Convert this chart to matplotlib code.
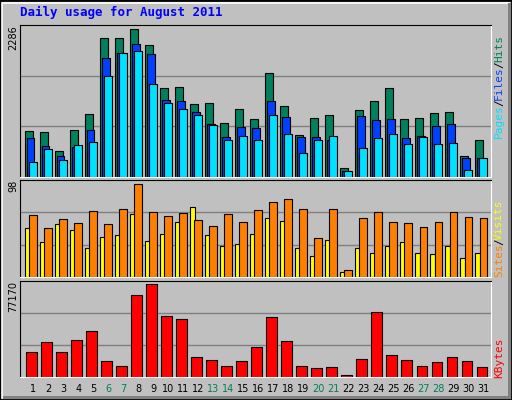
import matplotlib
matplotlib.use("Agg")
import matplotlib.pyplot as plt
import numpy as np
from matplotlib.patches import Rectangle

days = list(range(1, 32))
weekend = [6, 7, 13, 14, 20, 21, 27, 28]
hits_px = [394,397,451,391,343,115,115,88,136,265,262,313,310,370,328,358,220,319,406,355,346,502,331,304,265,358,355,340,337,466,418]
files_px = [415,436,466,439,391,175,160,133,163,301,304,337,373,412,382,385,304,352,412,412,418,512,349,361,358,415,409,379,373,472,472]
pages_px = [484,445,478,433,424,229,160,154,253,310,328,346,376,418,409,418,346,403,457,418,409,512,442,415,403,430,412,430,427,508,472]
hits = [2286*(530-y)/442 for y in hits_px]
files = [2286*(530-y)/442 for y in files_px]
pages = [2286*(530-y)/442 for y in pages_px]
visits_px = [121,160,133,145,109,148,103,28,112,124,115,136,154,118,142,106,82,73,103,187,103,283,130,112,142,145,157,142,112,127,130]
sites_px = [160,199,148,163,217,184,178,118,196,175,142,97,178,211,205,175,130,139,217,241,193,289,217,232,211,199,232,235,211,247,232]
visits = [98*(304-y)/276 for y in visits_px]
sites = [98*(304-y)/276 for y in sites_px]
kb_px = [529,499,529,493,466,556,568,358,328,421,430,544,553,568,556,514,424,496,568,574,571,595,550,409,538,553,568,559,544,556,571]
kbytes = [77170*(602-y)/274 for y in kb_px]

W, H = 512, 400
fig = plt.figure(figsize=(W/100, H/100), dpi=100)
fig.patch.set_facecolor("#C0C0C0")
# outer 3D frame
fig.add_artist(Rectangle((0, 0), 1, 1, transform=fig.transFigure, fill=False, ec="black", lw=2))
fig.add_artist(Rectangle((2/W, 2/H), 1-5/W, 1-5/H, transform=fig.transFigure, fill=False, ec="white", lw=1.2))
fig.add_artist(Rectangle((3/W, 1/H), 1-4/W, 3/H, transform=fig.transFigure, color="#808080", lw=0))
fig.add_artist(Rectangle((1-4/W, 1/H), 3/W, 1-4/H, transform=fig.transFigure, color="#808080", lw=0))

mono = "DejaVu Sans Mono"
fig.text(20/W, 1-12/H, "Daily usage for August 2011", color="#0000FF", fontsize=9,
         fontweight="bold", family=mono, va="center")

x = np.array(days)
def mkax(top, bot):
    ax = fig.add_axes([20/W, 1-bot/H, 471/W, (bot-top)/H])
    ax.set_facecolor("#C0C0C0")
    ax.set_xlim(0.11, 31.5)
    ax.set_xticks([]); ax.set_yticks([])
    for s in ("top", "left"):
        ax.spines[s].set_color("black")
    for s in ("bottom", "right"):
        ax.spines[s].set_color("white")
    return ax

ec = dict(edgecolor="black", linewidth=0.8, align="center")
ax1 = mkax(25, 177)
ym = 2286*454/442
ax1.set_ylim(0, ym)
for g in (ym/3, 2*ym/3):
    ax1.axhline(g, color="#808080", lw=1, zorder=0)
ax1.bar(x-0.30, hits, 0.51, color="#00805C", **ec)
ax1.bar(x-0.18, files, 0.51, color="#0040FF", **ec)
ax1.bar(x-0.03, pages, 0.51, color="#00E0FF", **ec)
fig.text(13/W, 1-38/H, "2286", rotation=90, fontsize=7, va="center", ha="center", family="DejaVu Sans")

ax2 = mkax(180, 277)
ym2 = 98*288/276
ax2.set_ylim(0, ym2)
for g in (ym2/3, 2*ym2/3):
    ax2.axhline(g, color="#808080", lw=1, zorder=0)
ax2.bar(x-0.39, sites, 0.29, color="#FFFF00", **ec)
ax2.bar(x-0.02, visits, 0.49, color="#FF8000", **ec)
fig.text(13/W, 1-186/H, "98", rotation=90, fontsize=7, va="center", ha="center")

ax3 = mkax(281, 377)
ym3 = 77170*284/274
ax3.set_ylim(0, ym3)
for g in (ym3/3, 2*ym3/3):
    ax3.axhline(g, color="#808080", lw=1, zorder=0)
ax3.bar(x-0.12, kbytes, 0.69, color="#FF0000", **ec)
fig.text(13/W, 1-297/H, "77170", rotation=90, fontsize=7, va="center", ha="center")

for d in days:
    xf = (20 + (d - 0.11)/(31.5-0.11)*471)/W
    fig.text(xf, 1-389/H, str(d), fontsize=7, ha="center", va="center",
             color="#00805C" if d in weekend else "black")

def rlabel(parts, ycenter):
    # parts bottom to top
    total = sum(len(p[0]) for p in parts)
    ch = 6.0
    ypos = ycenter - total*ch/2
    for t, c in parts:
        n = len(t)
        fig.text(499/W, 1-(ypos + n*ch/2)/H, t, rotation=90, color=c, fontsize=8,
                 family=mono, ha="center", va="center")
        ypos += n*ch
    # dummy

def rlab(parts, ybottom):
    ch = 6.3
    y = ybottom
    for t, c in parts:
        n = len(t)
        fig.text(499/W, (H - y + n*ch/2)/H, t, rotation=90, color=c, fontsize=8,
                 family=mono, ha="center", va="center")
        y -= n*ch

rlab([("Pages", "#00E0FF"), ("/", "black"), ("Files", "#0040FF"), ("/", "black"), ("Hits", "#00805C")], 137)
rlab([("Sites", "#FF8000"), ("/", "black"), ("Visits", "#FFFF00")], 276)
rlab([("KBytes", "#FF0000")], 377)

fig.savefig("out.png", dpi=100, facecolor=fig.get_facecolor())
